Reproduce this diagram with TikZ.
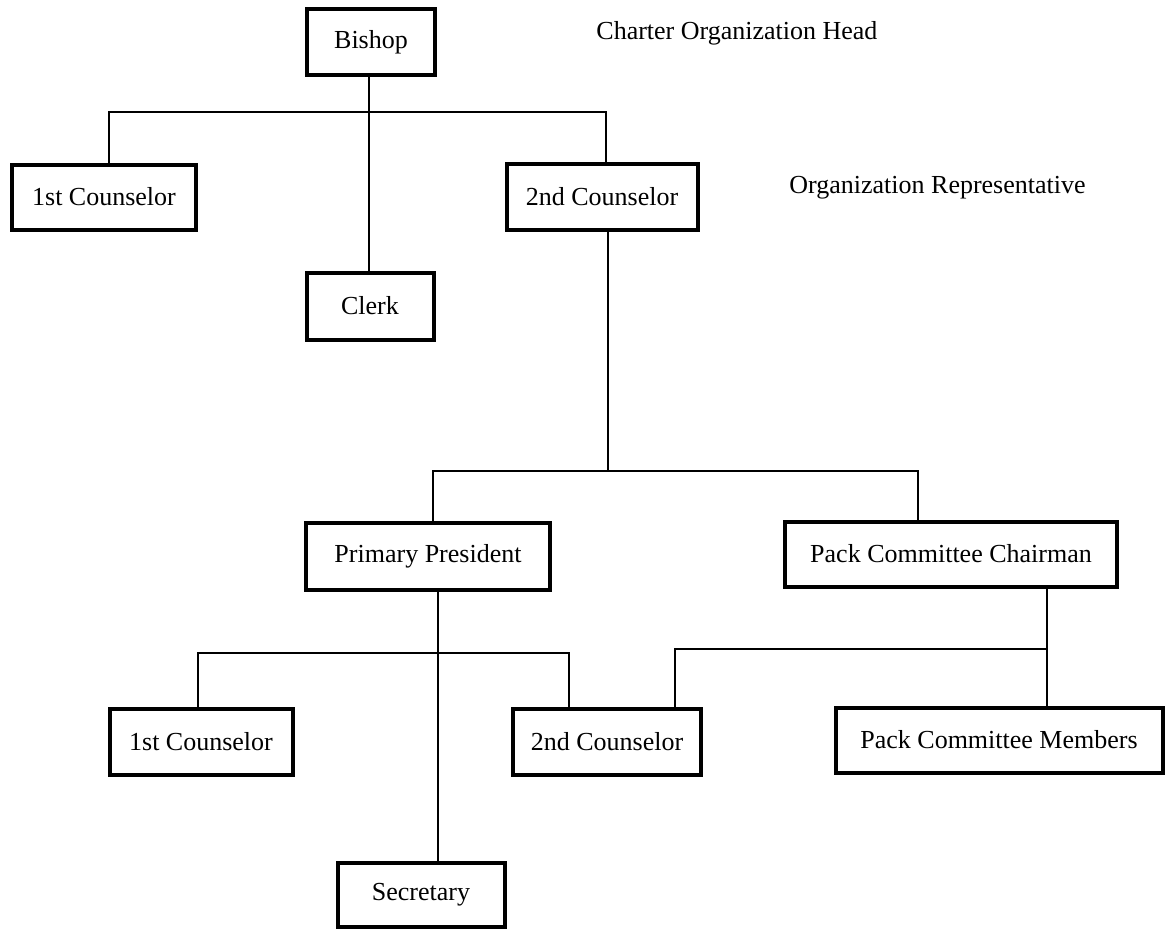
\documentclass[tikz,border=0pt]{standalone}
\usepackage{fontspec}
\setmainfont{Liberation Serif}

\tikzset{
	box/.style={draw, line width=2pt, inner sep=0pt, font=\fontsize{13}{15}\selectfont},
	tag/.style={anchor=west, inner sep=0pt, font=\fontsize{13}{15}\selectfont},
	link/.style={line width=1.2pt},
}

\begin{document}
\begin{tikzpicture}[x=0.5pt, y=-0.5pt]
	\useasboundingbox (0,0) rectangle (1172,931);

	\foreach \name/\x/\y/\w/\h/\txt in {
		bishop/371/42/128/66/Bishop,
		counselorA/104/197/184/65/1st Counselor,
		counselorB/602/197/191/66/2nd Counselor,
		clerk/370/306/127/67/Clerk,
		president/428/556/244/67/Primary President,
		chairman/951/554/332/65/Pack Committee Chairman,
		primaryA/201/742/183/66/1st Counselor,
		primaryB/607/742/188/66/2nd Counselor,
		members/999/740/327/65/Pack Committee Members,
		secretary/421/895/167/64/Secretary%
	} {
		\node[box, minimum width=\w*0.5pt, minimum height=\h*0.5pt] (\name) at (\x,\y) {\txt};
	}

	\node[tag] (head) at (596,33) {Charter Organization Head};
	\node[tag] (rep) at (789,188) {Organization Representative};

	% bends of the connectors
	\coordinate (busA) at (369,112);
	\coordinate (busAl) at (109,112);
	\coordinate (busAr) at (606,112);
	\coordinate (busB) at (608,471);
	\coordinate (busBl) at (433,471);
	\coordinate (busBr) at (918,471);
	\coordinate (busC) at (438,653);
	\coordinate (busCl) at (198,653);
	\coordinate (busCr) at (569,653);
	\coordinate (busD) at (1047,649);
	\coordinate (busDl) at (675,649);

	\draw[link] (bishop.south -| busA) -- (clerk.north -| busA);
	\draw[link] (counselorA.north -| busAl) -- (busAl) -- (busAr) -- (counselorB.north -| busAr);

	\draw[link] (counselorB.south -| busB) -- (busB);
	\draw[link] (president.north -| busBl) -- (busBl) -- (busBr) -- (chairman.north -| busBr);

	\draw[link] (president.south -| busC) -- (secretary.north -| busC);
	\draw[link] (primaryA.north -| busCl) -- (busCl) -- (busCr) -- (primaryB.north -| busCr);

	\draw[link] (chairman.south -| busD) -- (members.north -| busD);
	\draw[link] (busD) -- (busDl) -- (primaryB.north -| busDl);
\end{tikzpicture}
\end{document}
